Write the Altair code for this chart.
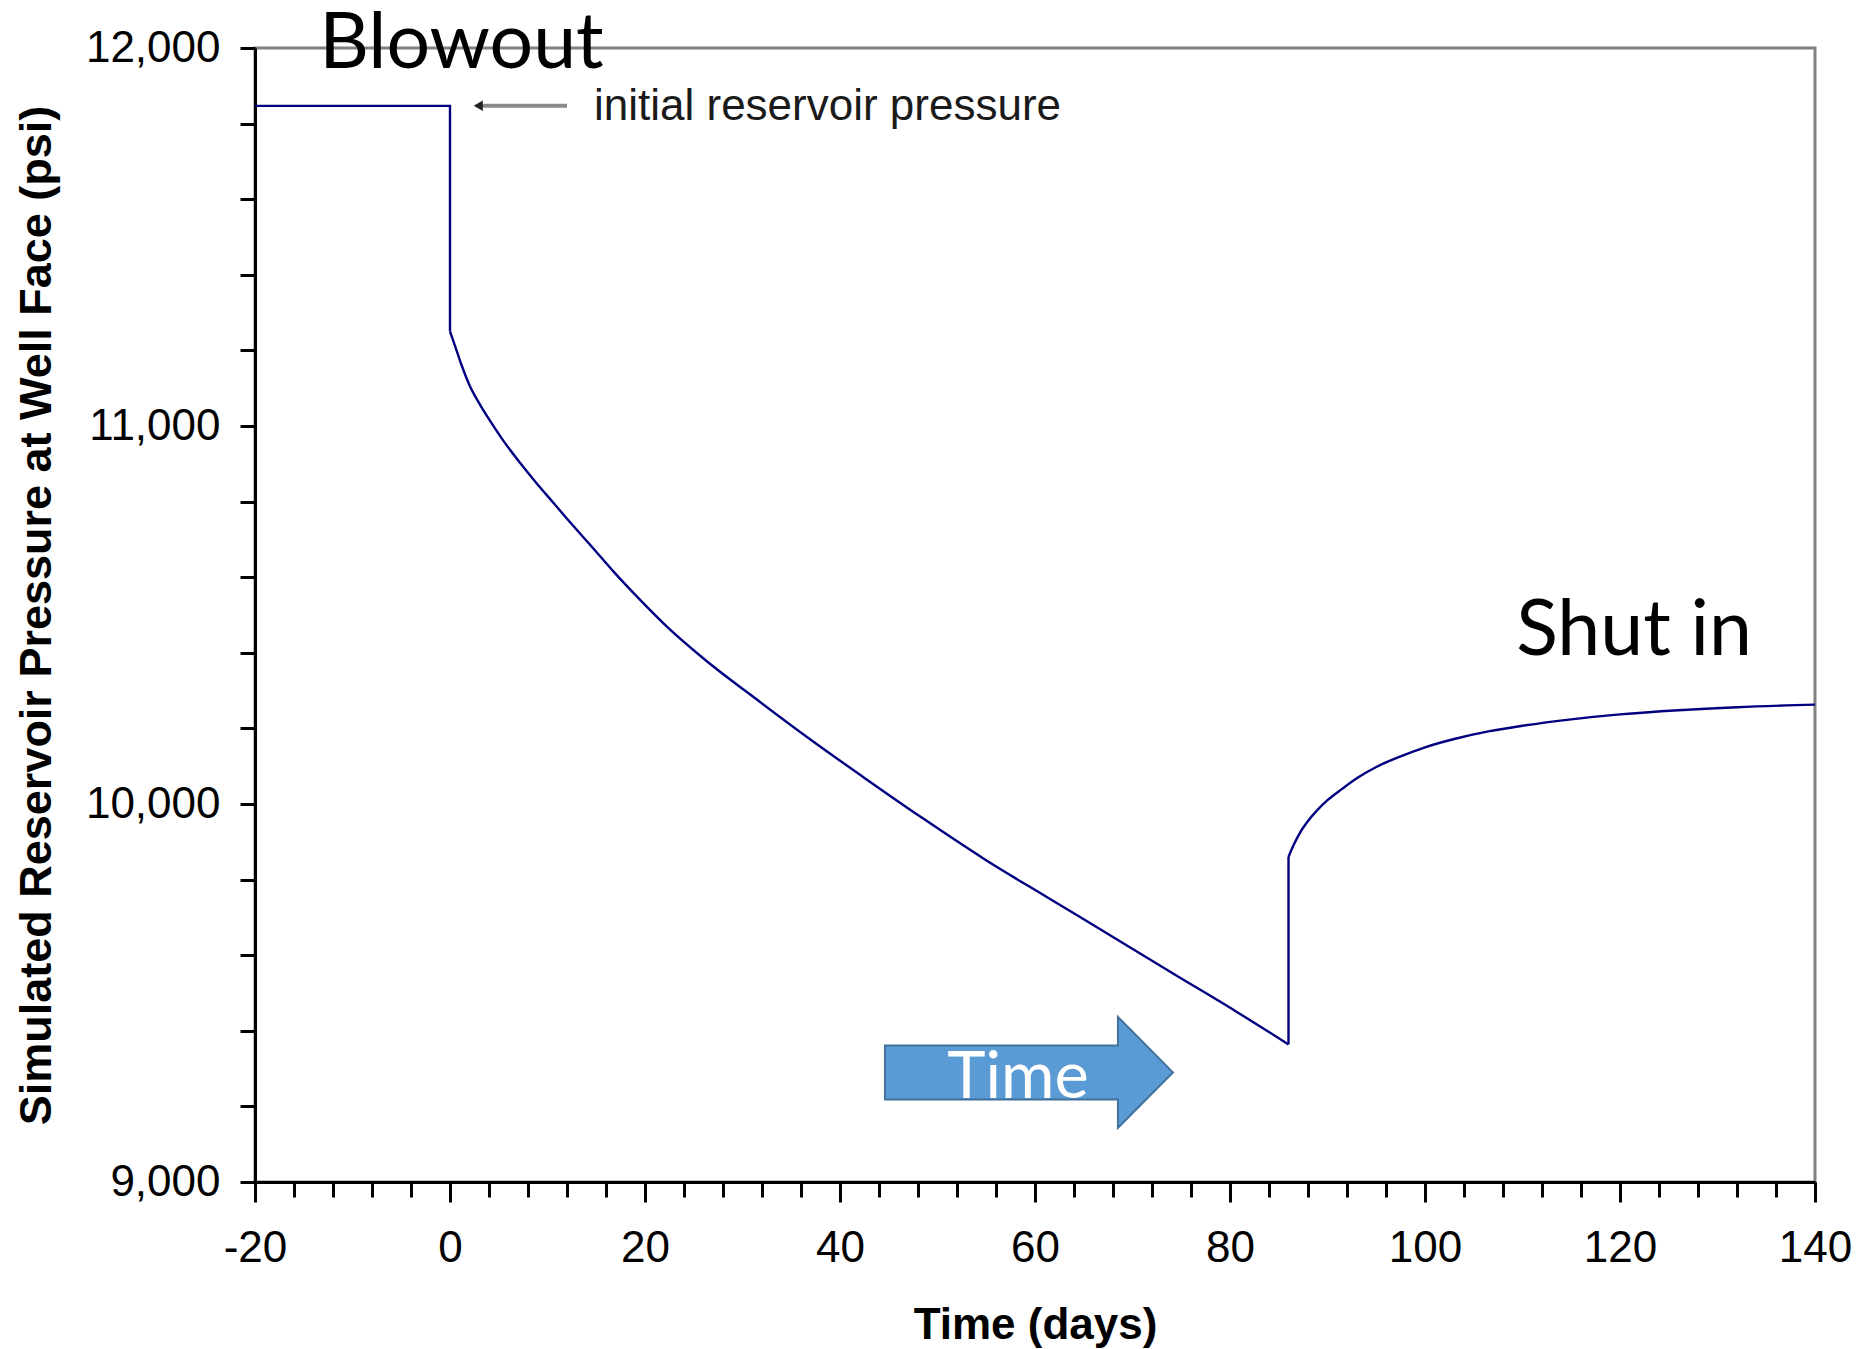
import altair as alt
import pandas as pd

# ---- data ----
# piece of the curve each point belongs to: straight jumps vs smooth trends
segment = (["pre_blowout"] * 3
           + ["drawdown"] * 28
           + ["shut_in_jump"] * 2
           + ["buildup"] * 19)
time_days = ([-20, 0, 0]
             + [0, 0.3, 0.7, 1.2, 2.0, 3.0, 4.0, 5.5, 7.2, 8.9, 10.6, 12.5, 14.5,
                16.8, 19.5, 22.3, 26.0, 31.8, 37.0, 42.4, 48.5, 54.7, 61.2, 67.7, 74.2, 80.7,
                83.5, 86.0]
             + [86.0, 86.0]
             + [86.0, 86.5, 87.2, 88.0, 89.0, 90.0, 91.5, 93.0, 95.0, 97.5, 100.0, 103.0,
                106.5, 110.0, 115.0, 120.0, 126.0, 132.0, 140.0])
pressure_psi = ([11847, 11847, 11250]
                + [11250, 11228, 11198, 11160, 11108, 11060, 11018, 10960, 10902, 10848, 10797, 10740, 10682,
                   10614, 10540, 10468, 10385, 10270, 10170, 10071, 9962, 9856, 9754, 9653, 9551, 9450,
                   9405, 9364]
                + [9364, 9860]
                + [9860, 9890, 9925, 9955, 9985, 10010, 10040, 10068, 10098, 10126, 10150, 10172,
                   10192, 10207, 10224, 10237, 10248, 10256, 10263])

x_major_ticks = [-20, 0, 20, 40, 60, 80, 100, 120, 140]
x_minor_ticks = list(range(-20, 141, 4))
y_ticks = list(range(9000, 12001, 200))

event_labels = ["Blowout", "Shut in"]
event_days = [1.18, 121.44]
event_psi = [11946, 10393]

note_labels = ["initial reservoir pressure"]
note_days = [14.77]
note_psi = [11809]

pointer_start_day = [12.0]
pointer_end_day = [2.9]
pointer_psi = [11847]

time_arrow_label = ["Time"]
time_arrow_day = [59.38]
time_arrow_psi = [9290]
time_label_day = [58.26]
time_label_psi = [9221]

# ---- tables ----
curve = pd.DataFrame({"idx": list(range(len(time_days))), "segment": segment,
                      "day": time_days, "psi": pressure_psi})
jumps = curve[curve["segment"].isin(["pre_blowout", "shut_in_jump"])]
trends = curve[curve["segment"].isin(["drawdown", "buildup"])]
events = pd.DataFrame({"label": event_labels, "day": event_days, "psi": event_psi})
notes = pd.DataFrame({"label": note_labels, "day": note_days, "psi": note_psi})
pointer = pd.DataFrame({"d1": pointer_start_day, "d2": pointer_end_day, "psi": pointer_psi})
time_arrow = pd.DataFrame({"day": time_arrow_day, "psi": time_arrow_psi})
time_label = pd.DataFrame({"label": time_arrow_label, "day": time_label_day, "psi": time_label_psi})

AXFONT = "Liberation Sans"
BIGFONT = "Lato"
LINE_COLOR = "#000080"

xs = alt.Scale(domain=[-20, 140], nice=False, zero=False)
ys = alt.Scale(domain=[9000, 12000], nice=False, zero=False)

x_major_axis = alt.Axis(
    values=x_major_ticks, orient="bottom", grid=False,
    tickSize=20, tickWidth=3, tickColor="black",
    domainColor="black", domainWidth=3,
    labelFont=AXFONT, labelFontSize=44, labelColor="black", labelPadding=24,
    labelExpr="datum.value + ''", labelFlush=False, labelOverlap=False,
    title="Time (days)", titleFont=AXFONT, titleFontSize=44, titleFontWeight="bold",
    titleColor="black", titleX=780, titleY=156, titleBaseline="alphabetic", titleAlign="center",
)
y_axis = alt.Axis(
    values=y_ticks, orient="left", grid=False,
    tickSize=15, tickWidth=3, tickColor="black",
    domainColor="black", domainWidth=3,
    labelFont=AXFONT, labelFontSize=44, labelColor="black", labelPadding=20,
    labelExpr="datum.value % 1000 === 0 ? format(datum.value, ',') : ''",
    labelFlush=False, labelOverlap=False,
    title="Simulated Reservoir Pressure at Well Face (psi)", titleFont=AXFONT,
    titleFontSize=45, titleFontWeight="bold", titleColor="black",
    titleX=-205, titleY=567, titleAngle=270, titleBaseline="alphabetic", titleAlign="center",
)
x_minor_axis = alt.Axis(
    values=x_minor_ticks, orient="bottom", grid=False, labels=False, domain=False,
    tickSize=15, tickWidth=3, tickColor="black", title="",
)

trend_line = alt.Chart(trends).mark_line(
    color=LINE_COLOR, strokeWidth=2.4, interpolate="monotone"
).encode(
    x=alt.X("day:Q", scale=xs, axis=x_major_axis),
    y=alt.Y("psi:Q", scale=ys, axis=y_axis),
    detail="segment:N",
    order=alt.Order("idx:Q"),
)
jump_line = alt.Chart(jumps).mark_line(
    color=LINE_COLOR, strokeWidth=2.4, interpolate="linear"
).encode(
    x=alt.X("day:Q", scale=xs, axis=None),
    y=alt.Y("psi:Q", scale=ys, axis=None),
    detail="segment:N",
    order=alt.Order("idx:Q"),
)

event_text = alt.Chart(events).mark_text(
    font=BIGFONT, fontSize=77, color="black", align="center", baseline="alphabetic"
).encode(
    x=alt.X("day:Q", scale=xs, axis=x_minor_axis),
    y=alt.Y("psi:Q", scale=ys, axis=None),
    text="label:N",
)

note_text = alt.Chart(notes).mark_text(
    font=AXFONT, fontSize=44, color="#1a1a1a", align="left", baseline="alphabetic"
).encode(
    x=alt.X("day:Q", scale=xs, axis=None),
    y=alt.Y("psi:Q", scale=ys, axis=None),
    text="label:N",
)

pointer_line = alt.Chart(pointer).mark_rule(color="#8a8a8a", strokeWidth=4).encode(
    x=alt.X("d1:Q", scale=xs, axis=None),
    x2="d2:Q",
    y=alt.Y("psi:Q", scale=ys, axis=None),
)
pointer_head = alt.Chart(pointer).mark_point(
    shape="triangle-left", filled=True, color="#222222", size=110, opacity=1
).encode(
    x=alt.X("d2:Q", scale=xs, axis=None),
    y=alt.Y("psi:Q", scale=ys, axis=None),
)

arrow_path = "M -1 -0.1875 L 0.618 -0.1875 L 0.618 -0.385 L 1 0 L 0.618 0.385 L 0.618 0.1875 L -1 0.1875 Z"
big_arrow = alt.Chart(time_arrow).mark_point(
    shape=arrow_path, size=82944, filled=True, fill="#5B9BD5", color="#5B9BD5",
    stroke="#41719C", strokeWidth=2, opacity=1
).encode(
    x=alt.X("day:Q", scale=xs, axis=None),
    y=alt.Y("psi:Q", scale=ys, axis=None),
)
big_arrow_text = alt.Chart(time_label).mark_text(
    font=BIGFONT, fontSize=65, color="white", align="center", baseline="alphabetic"
).encode(
    x=alt.X("day:Q", scale=xs, axis=None),
    y=alt.Y("psi:Q", scale=ys, axis=None),
    text="label:N",
)

chart = alt.layer(
    trend_line, jump_line, event_text, note_text, pointer_line, pointer_head,
    big_arrow, big_arrow_text
).resolve_axis(
    x="independent", y="independent"
).properties(
    width=1560, height=1134,
    padding={"left": 255, "top": 48, "right": 55, "bottom": 167},
    autosize=alt.AutoSizeParams(type="none"),
    background="white",
).configure_view(
    stroke="#808080", strokeWidth=3
)

chart.save("out.html", embed_options={"renderer": "svg", "actions": False})
